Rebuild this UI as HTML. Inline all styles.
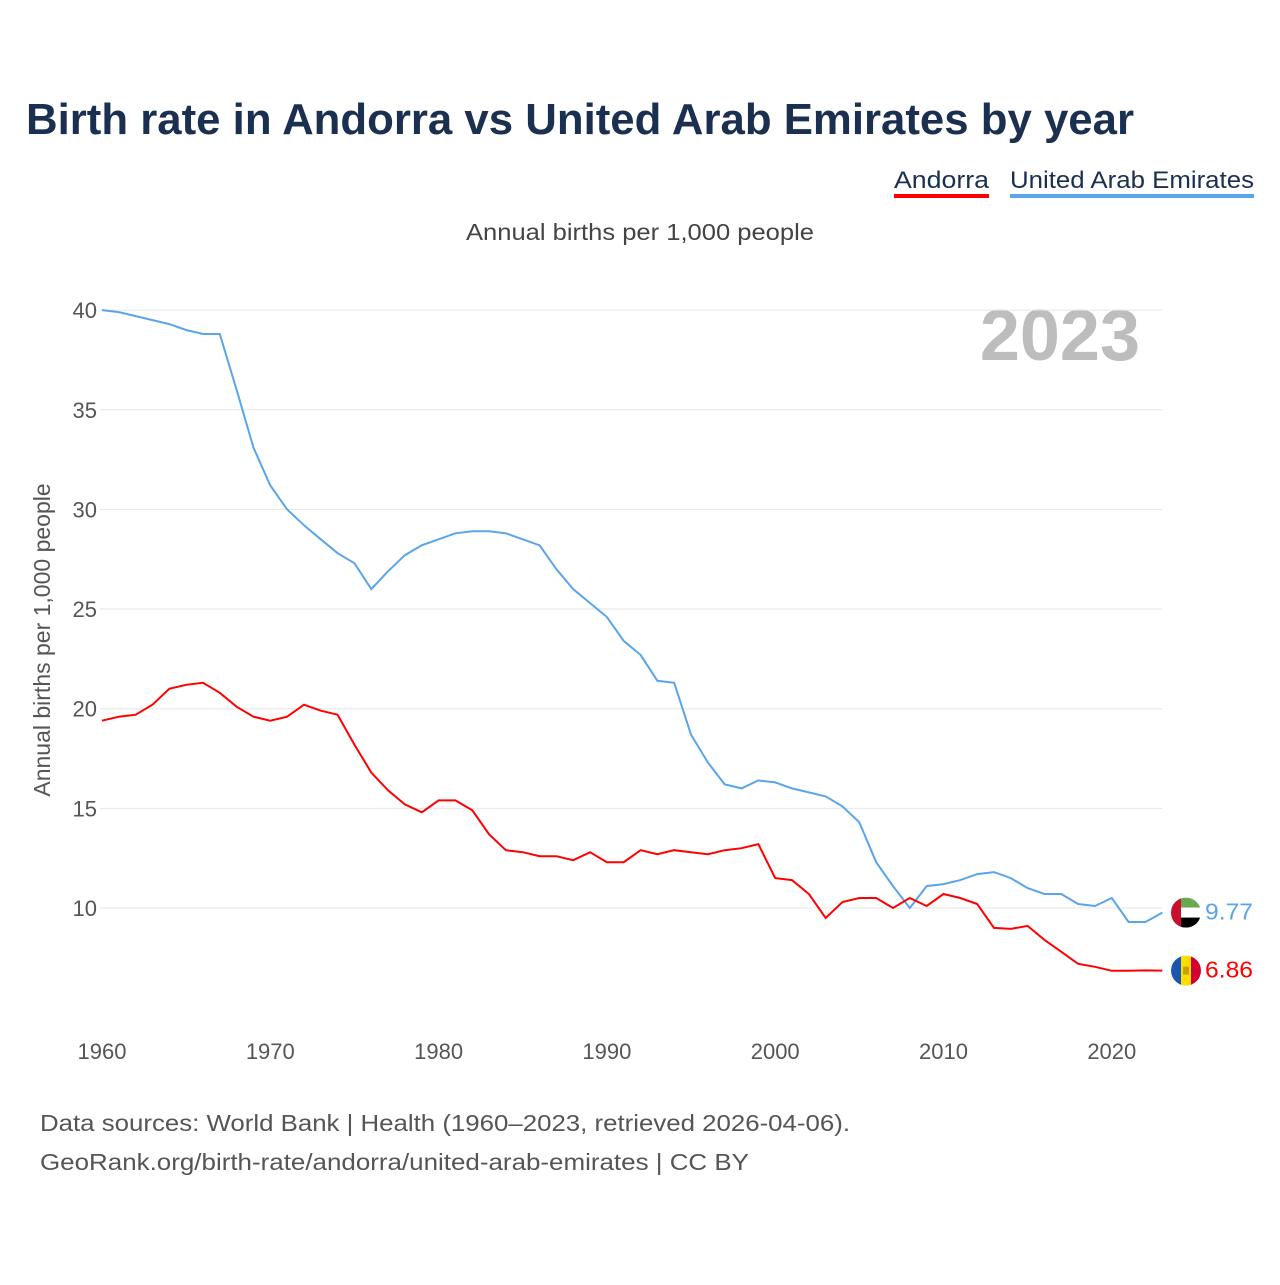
<!DOCTYPE html>
<html><head><meta charset="utf-8"><style>
body{margin:0;background:#fff;width:1280px;height:1280px;overflow:hidden;font-family:"Liberation Sans",sans-serif}
</style></head><body>
<svg width="1280" height="1280" xmlns="http://www.w3.org/2000/svg">
<text x="26" y="134" font-size="44" font-weight="bold" fill="#1b3050" textLength="1108" lengthAdjust="spacingAndGlyphs">Birth rate in Andorra vs United Arab Emirates by year</text>
<g><text x="894" y="188" font-size="24" fill="#1b3050" textLength="95" lengthAdjust="spacingAndGlyphs">Andorra</text><rect x="894" y="194" width="95" height="4" fill="#ff0000"/></g>
<g><text x="1010" y="188" font-size="24" fill="#1b3050" textLength="244" lengthAdjust="spacingAndGlyphs">United Arab Emirates</text><rect x="1010" y="194" width="244" height="4" fill="#5aa5ea"/></g>
<text x="466" y="240" font-size="23" fill="#444" textLength="348" lengthAdjust="spacingAndGlyphs">Annual births per 1,000 people</text>
<text x="1140" y="360" font-size="72" font-weight="bold" fill="#bdbdbd" text-anchor="end">2023</text>
<text transform="translate(50,640) rotate(-90)" font-size="23" fill="#555" text-anchor="middle">Annual births per 1,000 people</text>
<g id="grid"></g><g id="series"></g><g id="ends"></g>
<text x="40" y="1131" font-size="23" fill="#555" textLength="810" lengthAdjust="spacingAndGlyphs">Data sources: World Bank | Health (1960–2023, retrieved 2026-04-06).</text>
<text x="40" y="1170" font-size="23" fill="#555" textLength="709" lengthAdjust="spacingAndGlyphs">GeoRank.org/birth-rate/andorra/united-arab-emirates | CC BY</text>
</svg>
<script>
const years=[];for(let y=1960;y<=2023;y++)years.push(y);
const uae=[40.0,39.9,39.7,39.5,39.3,39.0,38.8,38.8,36.0,33.1,31.2,30.0,29.2,28.5,27.8,27.3,26.0,26.9,27.7,28.2,28.5,28.8,28.9,28.9,28.8,28.5,28.2,27.0,26.0,25.3,24.6,23.4,22.7,21.4,21.3,18.7,17.3,16.2,16.0,16.4,16.3,16.0,15.8,15.6,15.1,14.3,12.3,11.1,10.0,11.1,11.2,11.4,11.7,11.8,11.5,11.0,10.7,10.7,10.2,10.1,10.5,9.3,9.3,9.77];
const andorra=[19.4,19.6,19.7,20.2,21.0,21.2,21.3,20.8,20.1,19.6,19.4,19.6,20.2,19.9,19.7,18.2,16.8,15.9,15.2,14.8,15.4,15.4,14.9,13.7,12.9,12.8,12.6,12.6,12.4,12.8,12.3,12.3,12.9,12.7,12.9,12.8,12.7,12.9,13.0,13.2,11.5,11.4,10.7,9.5,10.3,10.5,10.5,10.0,10.5,10.1,10.7,10.5,10.2,9.0,8.95,9.1,8.4,7.8,7.2,7.05,6.85,6.85,6.87,6.86];
const yTicks=[10,15,20,25,30,35,40];
const xTicks=[1960,1970,1980,1990,2000,2010,2020];
const NS="http://www.w3.org/2000/svg";
const X=y=>102+(y-1960)*16.83;
const Y=v=>908-(v-10)*19.93;
function mk(t,a,p){const e=document.createElementNS(NS,t);for(const k in a)e.setAttribute(k,a[k]);p.appendChild(e);return e;}
const g=document.getElementById('grid');
yTicks.forEach(v=>{
 const l=mk('line',{x1:100,x2:1162,y1:Y(v),y2:Y(v),stroke:'#e6e6e6','stroke-width':1},g);
 
 
 const t=mk('text',{x:97,y:Y(v)+8,'font-size':22,fill:'#555','text-anchor':'end'},g);t.textContent=v;
 
 
});
xTicks.forEach(v=>{
 const t=mk('text',{x:X(v),y:1059,'font-size':22,fill:'#555','text-anchor':'middle'},g);t.textContent=v;
 
 
});
const s=document.getElementById('series');
function line(d,c,n){const p=mk('path',{d:d.map((v,i)=>(i?'L':'M')+X(years[i]).toFixed(1)+','+Y(v).toFixed(1)).join(''),fill:'none',stroke:c,'stroke-width':2},s);
 
 }
line(uae,'#5aa5ea','line-uae');line(andorra,'#ff0000','line-andorra');
const e=document.getElementById('ends');
function end(v,c,n,fl){const cx=1186,cy=Y(v[v.length-1]);
 const gg=mk('g',{},e);
 
 
 const cp=mk('clipPath',{id:'c'+n},gg);mk('circle',{cx,cy,r:15},cp);
 const f=mk('g',{'clip-path':'url(#c'+n+')'},gg);
 fl(f,cx,cy);
 const t=mk('text',{x:1205,y:cy+7,'font-size':23,fill:c,textLength:48,lengthAdjust:'spacingAndGlyphs'},e);t.textContent=v[v.length-1].toFixed(2);
 
 }
end(uae,'#5aa5ea','uae',(f,cx,cy)=>{mk('rect',{x:cx-15,y:cy-15,width:30,height:10,fill:'#6aa84f'},f);mk('rect',{x:cx-15,y:cy-5,width:30,height:10,fill:'#fff'},f);mk('rect',{x:cx-15,y:cy+5,width:30,height:10,fill:'#000'},f);mk('rect',{x:cx-15,y:cy-15,width:10,height:30,fill:'#c8102e'},f);});
end(andorra,'#ff0000','andorra',(f,cx,cy)=>{mk('rect',{x:cx-15,y:cy-15,width:10,height:30,fill:'#1a56b0'},f);mk('rect',{x:cx-5,y:cy-15,width:10,height:30,fill:'#fedd00'},f);mk('rect',{x:cx+5,y:cy-15,width:10,height:30,fill:'#d50032'},f);mk('rect',{x:cx-3,y:cy-4,width:6,height:8,fill:'#c7a000'},f);});
</script>
</body></html>
